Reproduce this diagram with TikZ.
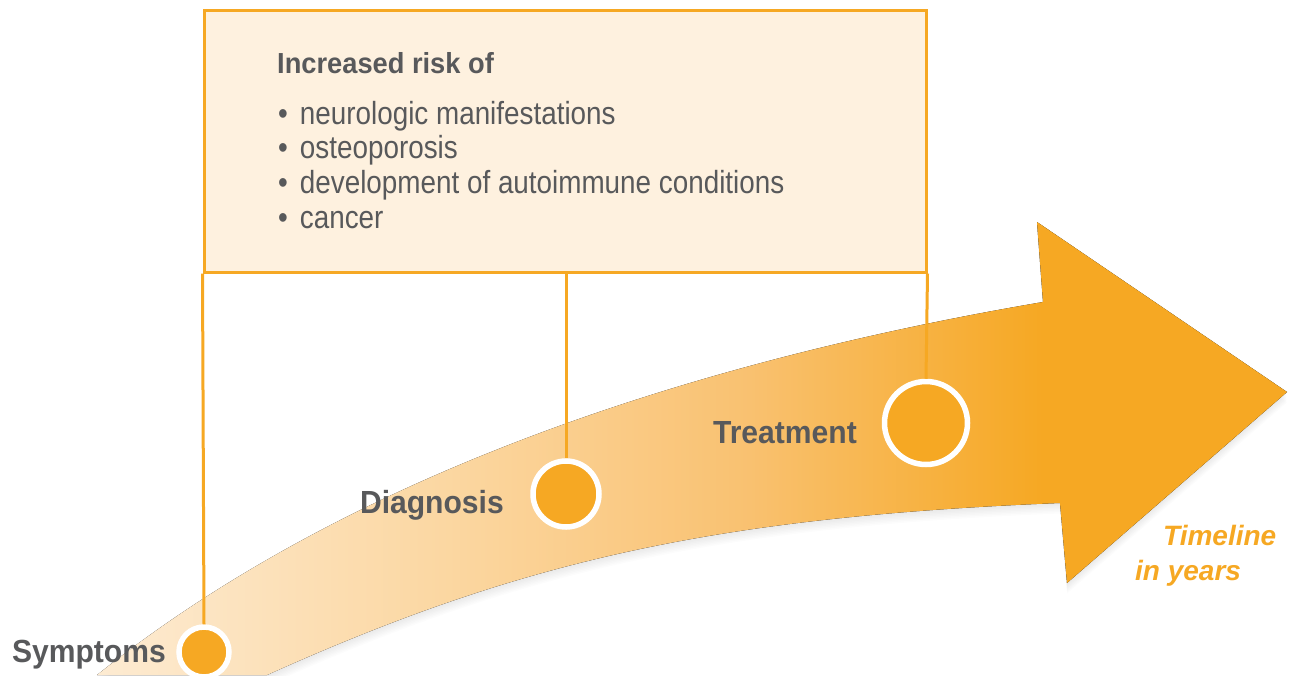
\documentclass[tikz,border=0pt]{standalone}
\usepackage{fontspec}
\setmainfont{Liberation Sans}
\newfontfamily\labelfont[FakeStretch=0.94]{Liberation Sans}
\newfontfamily\listfont[FakeStretch=0.87]{Liberation Sans}

\definecolor{tlorange}{HTML}{F6A823}
\definecolor{tlgrey}{HTML}{58595B}
\definecolor{boxfill}{HTML}{FEF1DF}
\definecolor{bandA}{HTML}{FDEBD2}
\definecolor{bandB}{HTML}{FBD59D}
\definecolor{bandC}{HTML}{F9C170}
\pgfdeclarehorizontalshading{bandshade}{100bp}{color(0bp)=(bandA); color(25bp)=(bandA); color(41bp)=(bandB); color(52.4bp)=(bandC); color(64.7bp)=(tlorange); color(100bp)=(tlorange)}

% outline of the curved timeline arrow (pixel units, y down)
\newcommand\timelinepath{(97,675) .. controls (347,475) and (693,361.5) .. (1043,302) -- (1037,222) -- (1287,392) -- (1067,583) -- (1060,503) .. controls (710,517) and (517,562.5) .. (267,675) -- cycle}

\begin{document}
\begin{tikzpicture}[x=1pt,y=-1pt,
  stage/.style={circle,fill=tlorange,draw=white,line width=5.5pt,inner sep=0pt},
  stagelabel/.style={text=tlgrey,inner sep=0pt,anchor=base east,
    font=\labelfont\bfseries\fontsize{32}{32}\selectfont},
  riskbox/.style={draw=tlorange,fill=boxfill,line width=3pt,minimum width=722pt,minimum height=262pt,inner sep=0pt},
  risktext/.style={text=tlgrey,inner sep=0pt,anchor=base west,
    font=\listfont\fontsize{32}{32}\selectfont},
  yearstext/.style={text=tlorange,inner sep=0pt,anchor=base west,
    font=\bfseries\itshape\fontsize{28}{28}\selectfont},
  link/.style={draw=tlorange,line width=3pt}]
\useasboundingbox (0,0) rectangle (1290,675);

% soft shadow, then the arrow itself
\foreach \k in {1,...,7}
  \fill[black,opacity=0.012,shift={(0,1.5*\k)}] \timelinepath;
\fill[shading=bandshade] \timelinepath;

% box with the risks
\node[riskbox] (risk) at (565,141) {};
\node[text=tlgrey,inner sep=0pt,anchor=base west,font=\labelfont\bfseries\fontsize{29}{29}\selectfont] (riskhead) at (277,73) {Increased risk of};
\foreach \item [count=\i] in {neurologic manifestations, osteoporosis, development of autoimmune conditions, cancer}
  \node[risktext] (risk\i) at (278,89.3+34.7*\i) {\textbullet\kern12pt\item};

% stages on the timeline
\node[stage,minimum size=50pt] (symptoms) at (204,652) {};
\node[stage,minimum size=66pt] (diagnosis) at (566,494) {};
\node[stage,minimum size=83pt] (treatment) at (926,423) {};
\draw[link] (risk.south west) -- (symptoms.north);
\draw[link] (risk.south -| diagnosis) -- (diagnosis.north);
\draw[link] (risk.south east) -- (treatment.north);

\node[stagelabel] (symptomslabel) at (166,662) {Symptoms};
\node[stagelabel] (diagnosislabel) at (504,513) {Diagnosis};
\node[stagelabel] (treatmentlabel) at (857,443) {Treatment};

\node[yearstext] (timeline) at (1163,545) {Timeline};
\node[yearstext] (inyears) at (1135,580) {in years};
\end{tikzpicture}
\end{document}
